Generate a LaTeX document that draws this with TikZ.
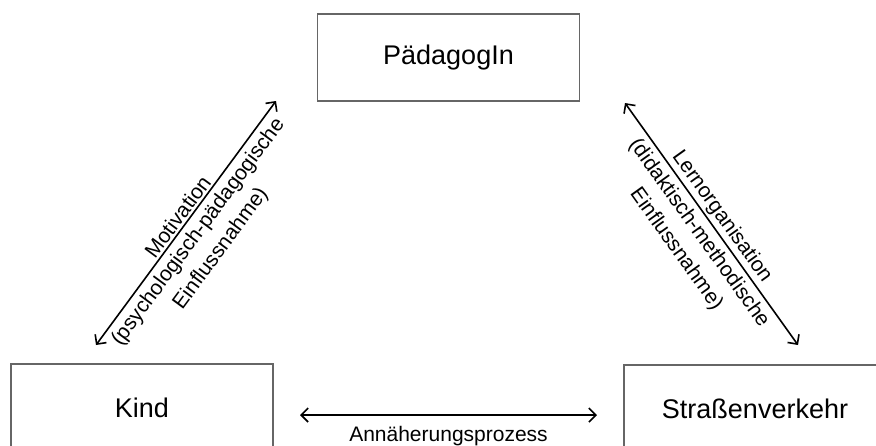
\documentclass[tikz,border=0pt]{standalone}
\usepackage{fontspec}
\setmainfont{Liberation Sans}
\usetikzlibrary{arrows.meta}

\begin{document}
\begin{tikzpicture}[x=1pt,y=-1pt]
\tikzset{
% boxes at the three corners of the triangle
box/.style={draw=black!60,line width=1.2pt,minimum width=262pt,minimum height=87pt,inner sep=0pt,font=\fontsize{27}{32}\selectfont},
rel/.style={<->,line width=1.6pt,>={Straight Barb[length=7pt,width=14pt]}},
lab/.style={font=\fontsize{21}{28}\selectfont,align=center,inner sep=2pt}
}
\useasboundingbox (0,0) rectangle (876,445);

% The corners
\node(paed)[box] at (448.5,57.5) {PädagogIn};
\node(kind)[box] at (142,407.5) {Kind};
\node(verkehr)[box] at (755,408.5) {Straßenverkehr};

% ends of the relations
\coordinate (kp) at (96,345);
\coordinate (pk) at (276,101);
\coordinate (pv) at (625,103);
\coordinate (vp) at (798,345);
\coordinate (kv) at (300,415);
\coordinate (vk) at (597,415);

% the relations
\draw[rel] (kp) -- (pk)
node[midway,sloped,above,lab]{Motivation}
node[midway,sloped,below,lab,inner sep=5pt]{(psychologisch-pädagogische\\Einflussnahme)};
\draw[rel] (pv) -- (vp)
node[midway,sloped,above,lab]{Lernorganisation}
node[midway,sloped,below,lab,inner sep=5pt]{(didaktisch-methodische\\Einflussnahme)};
\draw[rel] (kv) -- (vk)
node[midway,below=8pt,lab]{Annäherungsprozess};
\end{tikzpicture}
\end{document}
